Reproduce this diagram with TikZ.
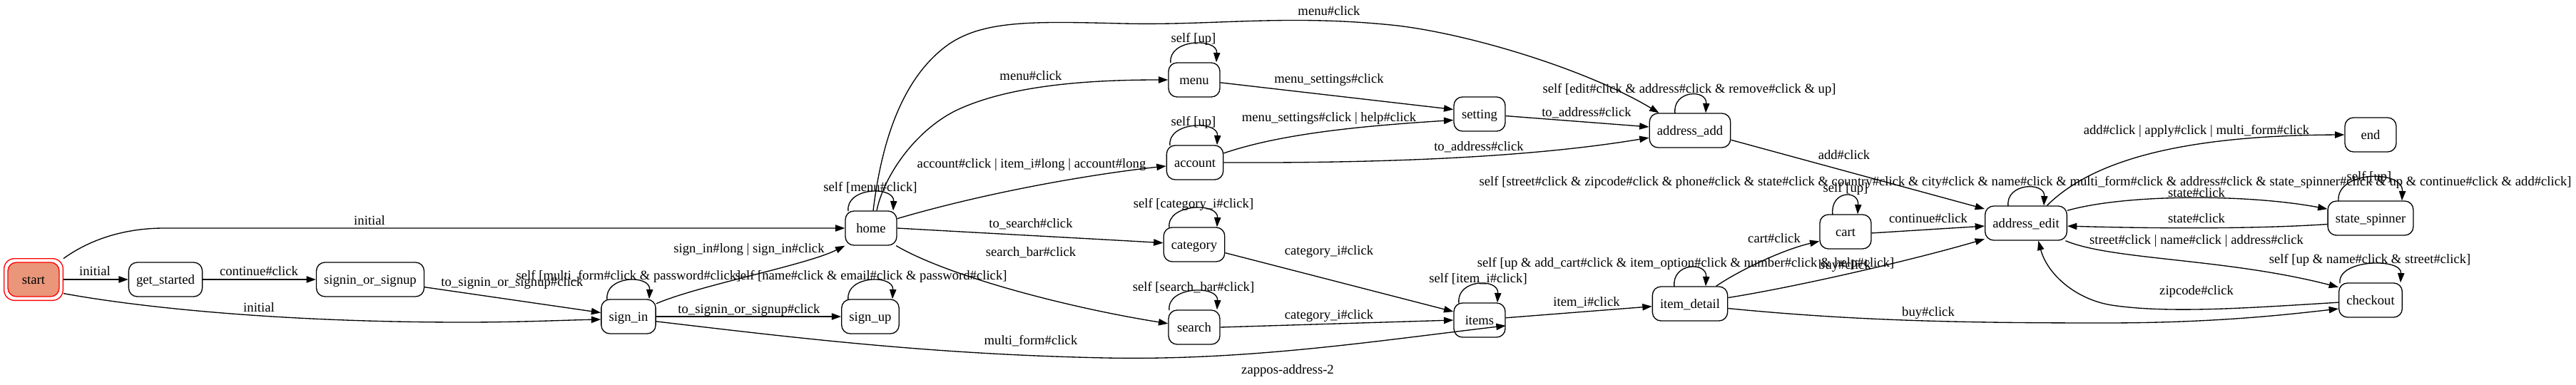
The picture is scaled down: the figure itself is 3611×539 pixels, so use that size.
\documentclass[tikz,border=0pt]{standalone}
\usepackage{fontspec}
\setmainfont{Liberation Serif}
\usetikzlibrary{arrows.meta,calc}
\definecolor{salmonfill}{HTML}{E9967A}
\newcommand{\selfloop}[4]{\draw[edge] ($(#1.north)+(#2,1)$) .. controls ($(#1.north)+(#2-4,-#4)$) and ($(#1.north)+(#3+2,-#4-2)$) .. ($(#1.north)+(#3,0)$);}
\begin{document}
\begin{tikzpicture}[x=0.75pt,y=-0.75pt,
  font=\fontsize{14}{16}\selectfont,
  state/.style={draw, rounded corners=9pt, minimum width=54pt, minimum height=36pt,
    inner xsep=8pt, inner ysep=0pt, line width=1pt, text height=9.5pt, text depth=0pt},
  lbl/.style={inner sep=0pt, text height=9.5pt, text depth=0pt},
  edge/.style={draw, line width=1pt, -{Triangle[length=10pt,width=7pt]}}]
\useasboundingbox (0,0) rectangle (3611,539);
% nodes
\node[draw=red, rounded corners=11pt, minimum width=62pt, minimum height=44pt, line width=1pt] (startring) at (47,392) {};
\node[state, draw=red, fill=salmonfill] (start) at (47,392) {start};
\node[state] (getstarted) at (232,392) {get\_started};
\node[state] (sos) at (519,392) {signin\_or\_signup};
\node[state] (signin) at (881,444) {sign\_in};
\node[state] (signup) at (1220,444) {sign\_up};
\node[state] (home) at (1221,320) {home};
\node[state] (menu) at (1674,112) {menu};
\node[state] (account) at (1675,228) {account};
\node[state] (setting) at (2074,160) {setting};
\node[state] (addradd) at (2369,183) {address\_add};
\node[state] (category) at (1674,343) {category};
\node[state] (search) at (1674,459) {search};
\node[state] (items) at (2074,449) {items};
\node[state] (itemdetail) at (2369,426) {item\_detail};
\node[state] (cart) at (2587,325) {cart};
\node[state] (addredit) at (2840,313) {address\_edit};
\node[state] (nend) at (3323,189) {end};
\node[state] (statesp) at (3323,306) {state\_spinner};
\node[state] (checkout) at (3323,421) {checkout};
% edges
\draw[edge] (startring.east) -- (getstarted.west);
\draw[edge] (getstarted.east) -- (sos.west);
\draw[edge] (startring.35) .. controls (130,333) and (180,320) .. (230,320) -- (home.west);
\draw[edge] (startring.-25) .. controls (200,432) and (400,452) .. (650,452) .. controls (730,452) and (790,449) .. (signin.186);
\draw[edge] (sos.-8) -- (signin.172);
\selfloop{signin}{-30}{29}{33}
\draw[edge] (signin.east) -- (signup.west);
\draw[edge] (signin.25) .. controls (980,400) and (1130,372) .. (home.south west);
\draw[edge] (signin.-10) .. controls (1100,472) and (1300,497) .. (1550,502) .. controls (1750,506) and (1930,478) .. (items.-12);
\selfloop{signup}{-31}{31}{33}
\selfloop{home}{-32}{31}{33}
\draw[edge] ($(home.north)+(8,0)$) .. controls (1238,250) and (1280,185) .. (1340,155) .. controls (1420,117) and (1540,112) .. (menu.west);
\draw[edge] ($(home.north)+(3,0)$) .. controls (1235,205) and (1262,110) .. (1330,62) .. controls (1380,28) and (1450,30) .. (1574,33) .. controls (1700,36) and (1800,20) .. (1950,35) .. controls (2050,45) and (2220,95) .. ($(addradd.north west)+(14,0)$);
\draw[edge] (home.20) .. controls (1400,265) and (1550,242) .. (account.-173);
\draw[edge] (home.east) .. controls (1400,328) and (1550,336) .. (category.177);
\draw[edge] (home.-35) .. controls (1330,388) and (1500,432) .. (search.172);
\selfloop{menu}{-33}{31}{33}
\selfloop{account}{-35}{31}{33}
\draw[edge] (menu.-6) -- (setting.170);
\draw[edge] (account.18) .. controls (1800,186) and (1920,176) .. (setting.-167);
\draw[edge] (account.east) .. controls (1950,229) and (2150,220) .. (addradd.-170);
\draw[edge] (setting.-4) -- (addradd.175);
\selfloop{addradd}{-21}{22}{32}
\draw[edge] (addradd.-13) -- (addredit.161);
\selfloop{category}{-35}{32}{33}
\selfloop{search}{-35}{32}{33}
\draw[edge] (category.-15) -- (items.162);
\draw[edge] (search.east) -- (items.west);
\selfloop{items}{-29}{25}{33}
\draw[edge] (items.5) -- (itemdetail.-176);
\selfloop{itemdetail}{-22}{22}{33}
\draw[edge] (itemdetail.34) .. controls (2440,378) and (2500,350) .. (cart.-160);
\draw[edge] (itemdetail.9) .. controls (2520,402) and (2680,365) .. (addredit.-159);
\draw[edge] (itemdetail.-7) .. controls (2600,450) and (2750,453) .. (2950,453) .. controls (3100,453) and (3200,442) .. (checkout.-165);
\selfloop{cart}{-18}{17}{33}
\draw[edge] (cart.-3) -- (addredit.-176);
\selfloop{addredit}{-25}{25}{32}
\draw[edge] (addredit.40) .. controls (2930,228) and (3050,190) .. (nend.west);
\draw[edge] (addredit.17) .. controls (2980,272) and (3150,272) .. (statesp.168);
\draw[edge] (statesp.-172) .. controls (3150,322) and (3000,320) .. (addredit.-4);
\draw[edge] (addredit.-24) .. controls (2960,365) and (3120,362) .. (checkout.158);
\selfloop{statesp}{-45}{44}{42}
\selfloop{checkout}{-43}{42}{33}
\draw[edge] (checkout.-176) .. controls (3150,432) and (3040,440) .. (2960,428) .. controls (2910,420) and (2870,385) .. (addredit.-55);
% labels
\node[lbl] (l1) at (133,380) {initial};
\node[lbl] (l2) at (363,380) {continue\#click};
\node[lbl] (l3) at (518,309) {initial};
\node[lbl] (l4) at (363,431) {initial};
\node[lbl] (l5) at (718,395) {to\_signin\_or\_signup\#click};
\node[lbl] (l6) at (881,386) {self [multi\_form\#click \& password\#click]};
\node[lbl] (l7) at (1221,386) {self [name\#click \& email\#click \& password\#click]};
\node[lbl] (l8) at (1050,433) {to\_signin\_or\_signup\#click};
\node[lbl] (l9) at (1050,348) {sign\_in\#long | sign\_in\#click};
\node[lbl] (l10) at (1445,477) {multi\_form\#click};
\node[lbl] (l11) at (1220,262) {self [menu\#click]};
\node[lbl] (l12) at (1445,106) {menu\#click};
\node[lbl] (l13) at (1863,15) {menu\#click};
\node[lbl] (l14) at (1446,229) {account\#click | item\_i\#long | account\#long};
\node[lbl] (l15) at (1445,313) {to\_search\#click};
\node[lbl] (l16) at (1445,353) {search\_bar\#click};
\node[lbl] (l17) at (1673,53) {self [up]};
\node[lbl] (l18) at (1673,170) {self [up]};
\node[lbl] (l19) at (1863,110) {menu\_settings\#click};
\node[lbl] (l20) at (1863,164) {menu\_settings\#click | help\#click};
\node[lbl] (l21) at (2073,205) {to\_address\#click};
\node[lbl] (l22) at (2224,157) {to\_address\#click};
\node[lbl] (l23) at (2368,124) {self [edit\#click \& address\#click \& remove\#click \& up]};
\node[lbl] (l24) at (2585,217) {add\#click};
\node[lbl] (l25) at (2839,254) {self [street\#click \& zipcode\#click \& phone\#click \& state\#click \& country\#click \& city\#click \& name\#click \& multi\_form\#click \& address\#click \& state\_spinner\#click \& up \& continue\#click \& add\#click]};
\node[lbl] (l26) at (2587,263) {self [up]};
\node[lbl] (l27) at (1673,285) {self [category\_i\#click]};
\node[lbl] (l28) at (1673,402) {self [search\_bar\#click]};
\node[lbl] (l29) at (1863,351) {category\_i\#click};
\node[lbl] (l30) at (1863,441) {category\_i\#click};
\node[lbl] (l31) at (2072,390) {self [item\_i\#click]};
\node[lbl] (l32) at (2224,423) {item\_i\#click};
\node[lbl] (l33) at (2363,368) {self [up \& add\_cart\#click \& item\_option\#click \& number\#click \& help\#click]};
\node[lbl] (l34) at (2487,334) {cart\#click};
\node[lbl] (l35) at (2586,371) {buy\#click};
\node[lbl] (l36) at (2703,306) {continue\#click};
\node[lbl] (l37) at (2703,437) {buy\#click};
\node[lbl] (l38) at (3079,182) {add\#click | apply\#click | multi\_form\#click};
\node[lbl] (l39) at (3079,270) {state\#click};
\node[lbl] (l40) at (3079,306) {state\#click};
\node[lbl] (l41) at (3079,336) {street\#click | name\#click | address\#click};
\node[lbl] (l42) at (3321,247) {self [up]};
\node[lbl] (l43) at (3322,363) {self [up \& name\#click \& street\#click]};
\node[lbl] (l44) at (3079,407) {zipcode\#click};
\node[lbl] (l45) at (1805,518) {zappos-address-2};
\end{tikzpicture}
\end{document}
